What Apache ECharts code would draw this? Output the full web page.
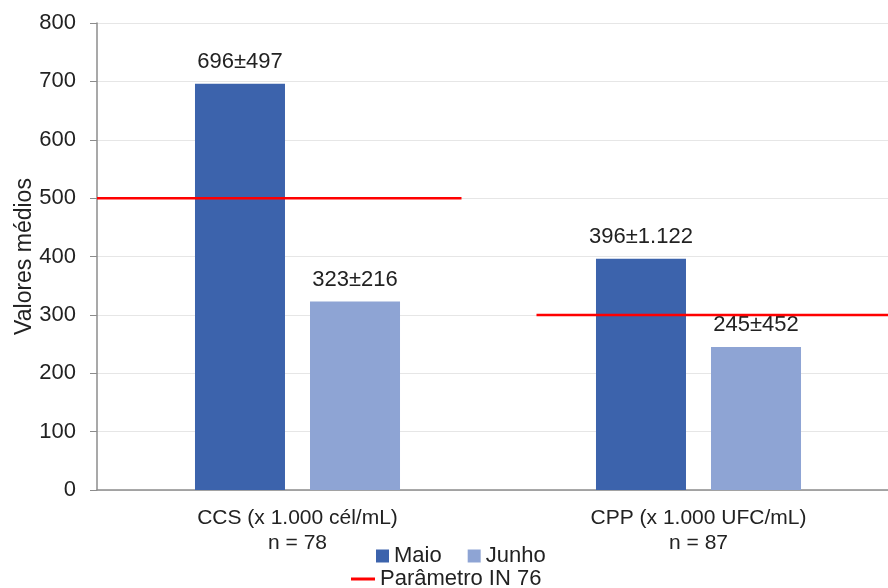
<!DOCTYPE html>
<html>
<head>
<meta charset="utf-8">
<script src="https://cdn.jsdelivr.net/npm/echarts@6/dist/echarts.min.js"></script>
<style>
  html, body { margin: 0; padding: 0; background: #fff; }
  #chart { width: 888px; height: 588px; }
</style>
</head>
<body>
<div id="chart"></div>
<script>
// categories and values
var categories = ['CCS (x 1.000 cél/mL)\nn = 78', 'CPP (x 1.000 UFC/mL)\nn = 87'];
var maio = [696, 396];
var junho = [323, 245];
var maioSd = ['497', '1.122'];
var junhoSd = ['216', '452'];
// reference lines (IN 76), x in category units (0..2)
var paramCCS = [[0, 500], [0.909, 500]];
var paramCPP = [[1.096, 300], [2, 300]];
var yTicks = { min: 0, max: 800, interval: 100 };

var font = 'Liberation Sans, Arial, sans-serif';
var chart = echarts.init(document.getElementById('chart'));

var option = {
    animation: false,
    textStyle: { fontFamily: font },
    // plot area runs a little past the right edge of the picture
    grid: { left: 97, width: 802, top: 23, bottom: 98, outerBoundsMode: 'none' },
    legend: [
        {
            left: 371, top: 540,
            itemWidth: 13, itemHeight: 13, itemGap: 26,
            icon: 'rect',
            textStyle: { fontSize: 22, color: '#222', fontFamily: font },
            data: ['Maio', 'Junho']
        },
        {
            left: 346, top: 563,
            itemWidth: 24, itemHeight: 3,
            icon: 'rect',
            textStyle: { fontSize: 22, color: '#222', fontFamily: font },
            data: ['Parâmetro IN 76']
        }
    ],
    xAxis: [
        {
            type: 'category',
            data: categories,
            axisLine: { lineStyle: { color: '#8c8c8c', width: 1.5 } },
            axisTick: { show: false },
            axisLabel: { fontSize: 21, color: '#222', margin: 16, lineHeight: 25 }
        },
        {
            type: 'value', min: 0, max: 2, show: false
        }
    ],
    yAxis: {
        type: 'value',
        min: yTicks.min, max: yTicks.max, interval: yTicks.interval,
        name: 'Valores médios',
        nameLocation: 'middle',
        nameRotate: 90,
        nameGap: 61,
        nameMoveOverlap: false,
        nameTextStyle: { fontSize: 23, color: '#222' },
        axisLine: { show: true, lineStyle: { color: '#8c8c8c', width: 1.5 } },
        axisTick: { show: true, length: 7, lineStyle: { color: '#8c8c8c' } },
        axisLabel: { fontSize: 22, color: '#222', margin: 21 },
        splitLine: { lineStyle: { color: '#e6e6e6' } }
    },
    series: [
        {
            name: 'Maio', type: 'bar', data: maio,
            barWidth: 90, barGap: '27.8%',
            itemStyle: { color: '#3c63ac' },
            label: {
                show: true, position: 'top', distance: 11,
                fontSize: 22, color: '#222',
                formatter: function (p) { return p.value + '±' + maioSd[p.dataIndex]; }
            }
        },
        {
            name: 'Junho', type: 'bar', data: junho,
            barWidth: 90,
            itemStyle: { color: '#8ea4d4' },
            label: {
                show: true, position: 'top', distance: 11,
                fontSize: 22, color: '#222',
                formatter: function (p) { return p.value + '±' + junhoSd[p.dataIndex]; }
            }
        },
        {
            name: 'Parâmetro IN 76', type: 'line', xAxisIndex: 1,
            data: paramCCS, symbol: 'none', z: 5,
            itemStyle: { color: '#ff0000' },
            lineStyle: { color: '#ff0000', width: 2.5 }
        },
        {
            name: 'Parâmetro IN 76', type: 'line', xAxisIndex: 1,
            data: paramCPP, symbol: 'none', z: 5,
            itemStyle: { color: '#ff0000' },
            lineStyle: { color: '#ff0000', width: 2.5 }
        }
    ]
};
chart.setOption(option);
</script>
</body>
</html>
